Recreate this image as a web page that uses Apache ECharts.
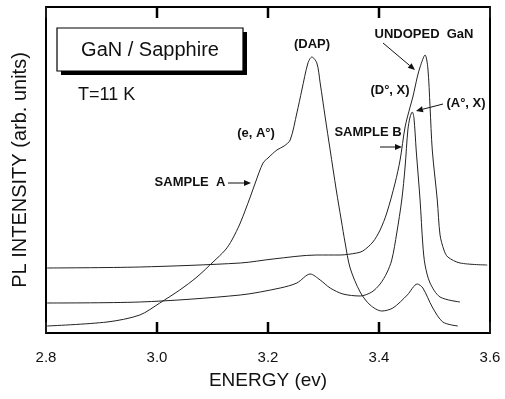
<!DOCTYPE html>
<html>
<head>
<meta charset="utf-8">
<title>GaN PL spectra</title>
<script src="https://cdn.jsdelivr.net/npm/echarts@6/dist/echarts.min.js"></script>
<style>
  html, body { margin: 0; padding: 0; background: #fff; }
  #chart { width: 505px; height: 399px; }
</style>
</head>
<body>
<div id="chart"></div>
<script>
// energy (eV) / intensity (arb. units)
var sampleAEnergy = [2.802, 2.910, 2.969, 3.005, 3.041, 3.072, 3.101, 3.123, 3.135, 3.150, 3.168, 3.177, 3.191, 3.200, 3.216, 3.229, 3.240, 3.252, 3.261, 3.272, 3.279, 3.288, 3.294, 3.303, 3.312, 3.323, 3.332, 3.339, 3.348, 3.366, 3.384, 3.405, 3.425, 3.451, 3.469, 3.479, 3.496, 3.515, 3.542];
var sampleAIntensity = [7, 11, 18, 30, 43, 56, 71, 83, 93, 110, 136, 150, 170, 175, 183, 187, 193, 220, 243, 270, 276, 270, 250, 216, 183, 143, 113, 90, 65, 41, 28, 22, 25, 38, 49, 45, 26, 11, 7];

var sampleBEnergy = [2.802, 2.969, 3.150, 3.222, 3.252, 3.276, 3.294, 3.312, 3.335, 3.366, 3.387, 3.402, 3.414, 3.423, 3.432, 3.441, 3.447, 3.452, 3.456, 3.460, 3.463, 3.467, 3.474, 3.479, 3.483, 3.492, 3.510, 3.546];
var sampleBIntensity = [30, 31, 38, 45, 50, 59, 53, 45, 39, 37, 41, 49, 60, 73, 100, 133, 166, 203, 216, 221, 215, 183, 133, 88, 68, 50, 36, 31];

var undopedEnergy = [2.802, 2.969, 3.150, 3.209, 3.288, 3.330, 3.360, 3.371, 3.389, 3.402, 3.414, 3.429, 3.438, 3.447, 3.456, 3.461, 3.469, 3.474, 3.483, 3.488, 3.492, 3.496, 3.505, 3.510, 3.517, 3.524, 3.546, 3.595];
var undopedIntensity = [65, 66, 70, 74, 78, 78, 80, 82, 91, 103, 120, 150, 173, 206, 226, 236, 256, 266, 278, 265, 226, 183, 133, 98, 83, 76, 70, 68];

// inner tick marks on top and bottom frame
var tickEnergies = [3.0, 3.2, 3.4];
var intensityMax = 326;
var tickLen = 11;

function pairs(xs, ys) {
    var out = [];
    for (var i = 0; i < xs.length; i++) out.push([xs[i], ys[i]]);
    return out;
}

// little arrow: line + filled head at (x2, y2)
function arrow(x1, y1, x2, y2) {
    var a = Math.atan2(y2 - y1, x2 - x1), len = 7, w = 3;
    var bx = x2 - len * Math.cos(a), by = y2 - len * Math.sin(a);
    return [
        { type: 'line', shape: { x1: x1, y1: y1, x2: bx, y2: by }, style: { stroke: '#111', lineWidth: 1 } },
        { type: 'polygon', shape: { points: [[x2, y2],
            [bx + w * Math.sin(a), by - w * Math.cos(a)],
            [bx - w * Math.sin(a), by + w * Math.cos(a)]] }, style: { fill: '#111' } }
    ];
}

function label(txt, x, y) {
    return { type: 'text', x: x, y: y, style: { text: txt, align: 'center', verticalAlign: 'middle',
        font: 'bold 13px "Liberation Sans", Arial, sans-serif', fill: '#111' } };
}

var sans = '"Liberation Sans", Arial, sans-serif';
var graphics = [
    { type: 'rect', shape: { x: 61, y: 32, width: 186, height: 43 }, style: { fill: '#000' } },
    { type: 'rect', shape: { x: 57, y: 28, width: 186, height: 43 }, style: { fill: '#fff', stroke: '#000', lineWidth: 1.2 } },
    { type: 'text', x: 150, y: 50, style: { text: 'GaN / Sapphire', align: 'center', verticalAlign: 'middle', font: '20px ' + sans, fill: '#111' } },
    { type: 'text', x: 78, y: 95, style: { text: 'T=11 K', align: 'left', verticalAlign: 'middle', font: '18px ' + sans, fill: '#111' } },
    label('(DAP)', 312, 44),
    label('(e, A°)', 256, 133),
    label('SAMPLE  A', 190, 182),
    label('UNDOPED  GaN', 424, 34),
    label('(D°, X)', 390, 90),
    label('(A°, X)', 466, 103),
    label('SAMPLE B', 368, 132)
].concat(arrow(228, 183, 251, 183), arrow(383, 43, 415, 70), arrow(443, 104, 416, 111), arrow(380, 147, 402, 147));

var lineStyle = { color: '#222', width: 1 };
var frame = { show: true, onZero: false, lineStyle: { color: '#000', width: 2 } };

var option = {
    animation: false,
    grid: { left: 46, right: 15, top: 7, bottom: 66 },
    xAxis: [{
        type: 'value', position: 'bottom', min: 2.8, max: 3.6, interval: 0.2,
        name: 'ENERGY (ev)', nameLocation: 'middle', nameGap: 38,
        nameTextStyle: { fontFamily: sans, fontSize: 19, color: '#111' },
        axisLine: frame,
        axisTick: { show: true, inside: true, length: tickLen, lineStyle: { color: '#1a1a1a', width: 2 } },
        axisLabel: { fontFamily: sans, fontSize: 15, color: '#111', margin: 17,
            formatter: function (v) { return v.toFixed(1); } },
        splitLine: { show: false }
    }, {
        type: 'value', position: 'top', min: 2.8, max: 3.6, interval: 0.2,
        axisLine: frame,
        axisTick: { show: true, inside: true, length: tickLen, lineStyle: { color: '#1a1a1a', width: 2 } },
        axisLabel: { show: false },
        splitLine: { show: false }
    }],
    yAxis: [{
        type: 'value', position: 'left', min: 0, max: intensityMax,
        name: 'PL INTENSITY (arb. units)', nameLocation: 'middle', nameGap: 16,
        nameTextStyle: { fontFamily: sans, fontSize: 20, color: '#111' },
        axisLine: frame, axisTick: { show: false },
        axisLabel: { show: false }, splitLine: { show: false }
    }, {
        type: 'value', position: 'right', min: 0, max: intensityMax,
        axisLine: frame, axisTick: { show: false },
        axisLabel: { show: false }, splitLine: { show: false }
    }],
    series: [
        { name: 'Sample A', type: 'line', data: pairs(sampleAEnergy, sampleAIntensity), showSymbol: false, smooth: 0.3, lineStyle: lineStyle },
        { name: 'Sample B', type: 'line', data: pairs(sampleBEnergy, sampleBIntensity), showSymbol: false, smooth: 0.3, lineStyle: lineStyle },
        { name: 'Undoped GaN', type: 'line', data: pairs(undopedEnergy, undopedIntensity), showSymbol: false, smooth: 0.3, lineStyle: lineStyle }
    ],
    graphic: graphics
};

var myChart = echarts.init(document.getElementById('chart'));
myChart.setOption(option);

// tick marks also placed through the chart's own scale, a bit heavier so they read clearly
var tickMarks = [];
tickEnergies.forEach(function (e) {
    [[0, tickLen], [intensityMax - tickLen, intensityMax]].forEach(function (span) {
        var p0 = myChart.convertToPixel({ gridIndex: 0 }, [e, span[0]]);
        var p1 = myChart.convertToPixel({ gridIndex: 0 }, [e, span[1]]);
        tickMarks.push({ type: 'line', z: 100, shape: { x1: p0[0], y1: p0[1], x2: p1[0], y2: p1[1] },
            style: { stroke: '#000', lineWidth: 2.5 } });
    });
});
myChart.setOption({ graphic: graphics.concat(tickMarks) });
</script>
</body>
</html>
